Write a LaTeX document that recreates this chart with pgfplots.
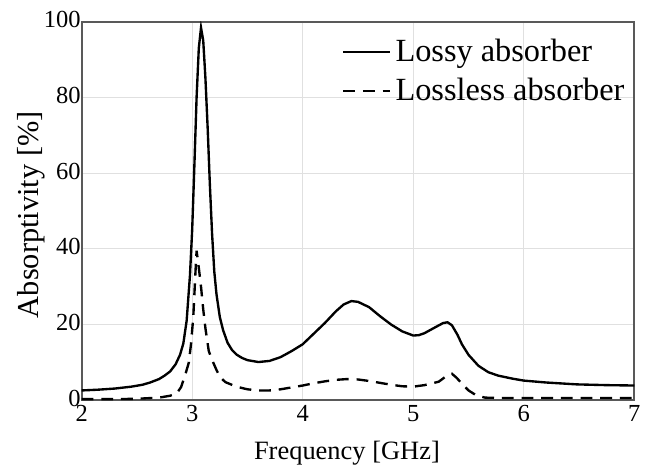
\documentclass[border=0pt]{standalone}
\usepackage{pgfplots}
\pgfplotsset{compat=1.18}
\usetikzlibrary{calc}
\usepackage{fontspec}
\setmainfont{Liberation Serif}
\pgfplotstableread{
f a
2.00 2.6
2.15 2.8
2.30 3.1
2.45 3.6
2.55 4.1
2.62 4.7
2.70 5.6
2.75 6.5
2.80 7.6
2.85 9.5
2.89 12
2.92 15
2.95 21
2.98 33
3.00 45
3.02 62
3.04 80
3.06 93
3.08 98.4
3.10 95
3.12 85
3.14 72
3.16 57
3.18 44
3.20 34
3.22 28
3.25 22
3.28 18.5
3.32 15.2
3.36 13.3
3.40 12.1
3.45 11.2
3.50 10.6
3.60 10.1
3.70 10.4
3.80 11.4
3.90 13.0
4.00 14.8
4.10 17.6
4.20 20.4
4.30 23.5
4.37 25.3
4.44 26.2
4.50 26.0
4.60 24.6
4.70 22.2
4.80 20.0
4.90 18.2
5.00 17.1
5.05 17.2
5.10 17.7
5.20 19.3
5.27 20.4
5.31 20.6
5.35 19.8
5.40 17.3
5.44 14.8
5.50 12.0
5.59 9.1
5.68 7.4
5.77 6.5
5.90 5.7
6.00 5.2
6.20 4.7
6.48 4.2
6.75 4.0
7.00 3.9
}\lossy
\pgfplotstableread{
f a
2.00 0.3
2.30 0.3
2.50 0.4
2.70 0.7
2.80 1.2
2.86 1.8
2.90 3.5
2.94 7
2.97 10
2.99 15
3.01 22
3.03 34
3.04 39.5
3.06 35
3.08 30
3.10 24
3.12 19
3.15 13
3.19 10
3.22 8
3.25 6.2
3.30 4.8
3.40 3.6
3.50 2.9
3.60 2.6
3.70 2.6
3.80 2.9
3.90 3.4
4.00 3.9
4.10 4.5
4.20 5.0
4.30 5.4
4.40 5.6
4.50 5.5
4.60 5.1
4.70 4.6
4.80 4.1
4.90 3.7
5.00 3.6
5.10 4.0
5.23 4.9
5.30 6.4
5.35 7.0
5.39 6.0
5.44 4.4
5.50 2.6
5.57 1.3
5.65 0.7
5.80 0.6
6.00 0.6
7.00 0.6
}\lossless
\begin{document}
\begin{tikzpicture}
\begin{axis}[
  scale only axis,
  width=281bp, height=192.5bp,
  xmin=2, xmax=7, ymin=0, ymax=100,
  xtick={2,3,4,5,6,7}, ytick={0,20,40,60,80,100},
  major tick length=0pt,
  grid=major,
  major grid style={draw=black!12, line width=0.6bp},
  axis line style={draw=black!65, line width=1.1bp},
  tick label style={font=\fontsize{12.5}{14}\selectfont, /pgf/number format/assume math mode=true},
  yticklabel style={xshift=3bp, yshift=1bp},
  xticklabel style={yshift=1bp},
  xlabel={Frequency [GHz]},
  ylabel={Absorptivity [\%]},
  xlabel style={font=\fontsize{13.5}{16}\selectfont, at={(axis description cs:0.48,-0.14)}, anchor=center},
  ylabel style={font=\fontsize{15.5}{18}\selectfont, at={(axis description cs:-0.091,0.49)}, anchor=center},
  legend style={draw=none, fill=none, at={(rel axis cs:0.99,0.965)}, anchor=north east,
    font=\fontsize{16.5}{19}\selectfont, inner sep=0pt, row sep=3bp,
    /tikz/every even column/.append style={column sep=0pt}},
  legend cell align=left,
  legend image code/.code={\draw[#1, line width=1.2bp] (0bp,0bp) -- (24bp,0bp);},
]
\addplot[black, line width=1.2bp] table[x=f, y=a] {\lossy};
\addlegendentry{Lossy absorber}
\addplot[black, line width=1.2bp, dash pattern=on 6bp off 4bp] table[x=f, y=a] {\lossless};
\addlegendentry{Lossless absorber}
\coordinate (sw) at (rel axis cs:0,0);
\coordinate (ne) at (rel axis cs:1,1);
\end{axis}
\path (sw) ++(-41.5bp,-35bp) rectangle ($(ne)+(1bp,11bp)$);
\end{tikzpicture}
\end{document}
